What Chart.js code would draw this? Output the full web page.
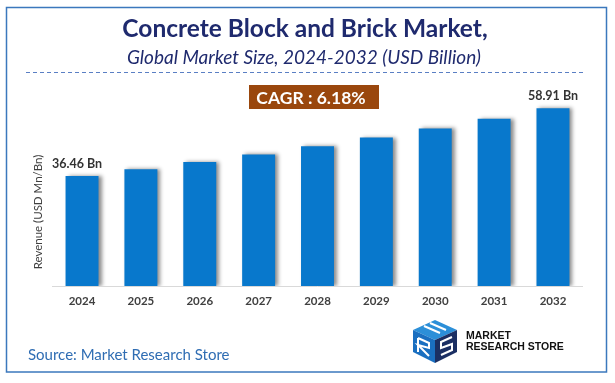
<!DOCTYPE html>
<html>
<head>
<meta charset="utf-8">
<script src="https://cdn.jsdelivr.net/npm/chart.js@4/dist/chart.umd.min.js"></script>
<style>
html,body{margin:0;padding:0;background:#fff;}
#wrap{position:relative;width:615px;height:383px;}
canvas{display:block;}
</style>
</head>
<body>
<div id="wrap"><canvas id="c" width="615" height="383"></canvas></div>
<script>
const categories = ['2024','2025','2026','2027','2028','2029','2030','2031','2032'];
const revenue = [36.46, 38.71, 41.10, 43.64, 46.34, 49.21, 52.25, 55.48, 58.91];
const labelledIndexes = [0, 8];
const titleText = 'Concrete Block and Brick Market,';
const subtitleText = 'Global Market Size, 2024-2032 (USD Billion)';
const cagrText = 'CAGR : 6.18%';
const yTitle = 'Revenue (USD Mn/Bn)';
const sourceText = 'Source: Market Research Store';

const decor = {
  id: 'decor',
  beforeDraw(chart) {
    const ctx = chart.ctx;
    ctx.save();
    ctx.fillStyle = '#fff';
    ctx.fillRect(0, 0, chart.width, chart.height);
    // frame
    ctx.strokeStyle = '#3b78bd';
    ctx.lineWidth = 1.5;
    ctx.strokeRect(6.5, 7.5, 600, 364.5);
    // title
    ctx.textAlign = 'center';
    ctx.textBaseline = 'alphabetic';
    ctx.fillStyle = '#1f2a6e';
    ctx.font = 'bold 24.5px Lato';
    ctx.fillText(titleText, 305, 37);
    ctx.font = 'italic 19px Lato';
    ctx.fillText(subtitleText, 304, 64);
    // dashed line
    ctx.strokeStyle = '#5a7fc4';
    ctx.lineWidth = 1;
    ctx.setLineDash([4, 3]);
    ctx.beginPath();
    ctx.moveTo(26, 72.5);
    ctx.lineTo(583, 72.5);
    ctx.stroke();
    ctx.setLineDash([]);
    // CAGR box
    ctx.fillStyle = '#9a470d';
    ctx.fillRect(249, 85, 130, 24);
    ctx.fillStyle = '#ffffff';
    ctx.font = 'bold 17.5px Lato';
    ctx.textBaseline = 'middle';
    ctx.fillText(cagrText, 311, 98);
    // y title
    ctx.save();
    ctx.translate(38.5, 212);
    ctx.rotate(-Math.PI / 2);
    ctx.fillStyle = '#404040';
    ctx.font = '11.5px Lato';
    ctx.fillText(yTitle, 0, 0);
    ctx.restore();
    // source
    ctx.textAlign = 'left';
    ctx.textBaseline = 'alphabetic';
    ctx.fillStyle = '#2f6db3';
    ctx.font = '15px Lato';
    ctx.fillText(sourceText, 28, 360);
    // logo icon
    ctx.fillStyle = '#2c8fd8';
    ctx.beginPath();
    ctx.moveTo(435, 320); ctx.lineTo(457, 330); ctx.lineTo(435, 340); ctx.lineTo(413, 330); ctx.closePath();
    ctx.fill();
    ctx.fillStyle = '#1a6fc0';
    ctx.beginPath();
    ctx.moveTo(413, 330); ctx.lineTo(435, 340); ctx.lineTo(435, 363); ctx.lineTo(413, 352); ctx.closePath();
    ctx.fill();
    ctx.fillStyle = '#1b2f63';
    ctx.beginPath();
    ctx.moveTo(457, 330); ctx.lineTo(435, 340); ctx.lineTo(435, 363); ctx.lineTo(457, 352); ctx.closePath();
    ctx.fill();
    ctx.strokeStyle = '#ffffff';
    ctx.lineWidth = 2;
    ctx.beginPath();
    ctx.moveTo(424, 326); ctx.lineTo(440, 333);
    ctx.moveTo(430, 323); ctx.lineTo(446, 330);
    ctx.moveTo(418, 338); ctx.lineTo(418, 352);
    ctx.moveTo(418, 338); ctx.lineTo(429, 343); ctx.lineTo(429, 348); ctx.lineTo(418, 345); ctx.lineTo(429, 356);
    ctx.moveTo(452, 337); ctx.lineTo(441, 342); ctx.lineTo(441, 348); ctx.lineTo(452, 344); ctx.lineTo(452, 350); ctx.lineTo(441, 355);
    ctx.stroke();
    ctx.fillStyle = '#111111';
    ctx.font = 'bold 10.5px "Liberation Sans"';
    ctx.fillText('MARKET', 466, 339);
    ctx.fillText('RESEARCH STORE', 466, 349.5);
    ctx.restore();
  },
  beforeDatasetsDraw(chart) {
    const ctx = chart.ctx;
    ctx.save();
    ctx.shadowColor = 'rgba(0,0,0,0.45)';
    ctx.shadowBlur = 4;
    ctx.shadowOffsetX = 3;
    ctx.shadowOffsetY = 0;
  },
  afterDatasetsDraw(chart) {
    const ctx = chart.ctx;
    ctx.restore();
    const meta = chart.getDatasetMeta(0);
    ctx.save();
    ctx.fillStyle = '#333333';
    ctx.font = 'bold 12.5px Lato';
    ctx.textAlign = 'center';
    ctx.textBaseline = 'middle';
    labelledIndexes.forEach(i => {
      const el = meta.data[i];
      const txt = revenue[i].toFixed(2) + ' Bn';
      const dx = i === 0 ? -5 : 0;
      ctx.fillText(txt, el.x + dx, el.y - 12);
    });
    ctx.restore();
  }
};

new Chart(document.getElementById('c'), {
  type: 'bar',
  data: {
    labels: categories,
    datasets: [{
      data: revenue,
      backgroundColor: '#0878cc',
      borderWidth: 0,
      categoryPercentage: 1,
      barPercentage: 0.56
    }]
  },
  options: {
    responsive: false,
    animation: false,
    layout: { padding: { left: 0, right: 32.6, top: 90, bottom: 0 } },
    plugins: { legend: { display: false }, tooltip: { enabled: false }, title: { display: false } },
    scales: {
      x: {
        grid: { display: false, drawTicks: false },
        border: { display: true, color: '#d9d9d9', width: 1 },
        ticks: { color: '#404040', font: { family: 'Lato', weight: 'bold', size: 11.5 }, padding: 8 },
        afterFit(scale) { scale.height = 97; }
      },
      y: {
        min: 0,
        max: 65,
        display: true,
        grid: { display: false, drawTicks: false },
        border: { display: false },
        ticks: { display: false },
        afterFit(scale) { scale.width = 52.6; }
      }
    }
  },
  plugins: [decor]
});
</script>
</body>
</html>
